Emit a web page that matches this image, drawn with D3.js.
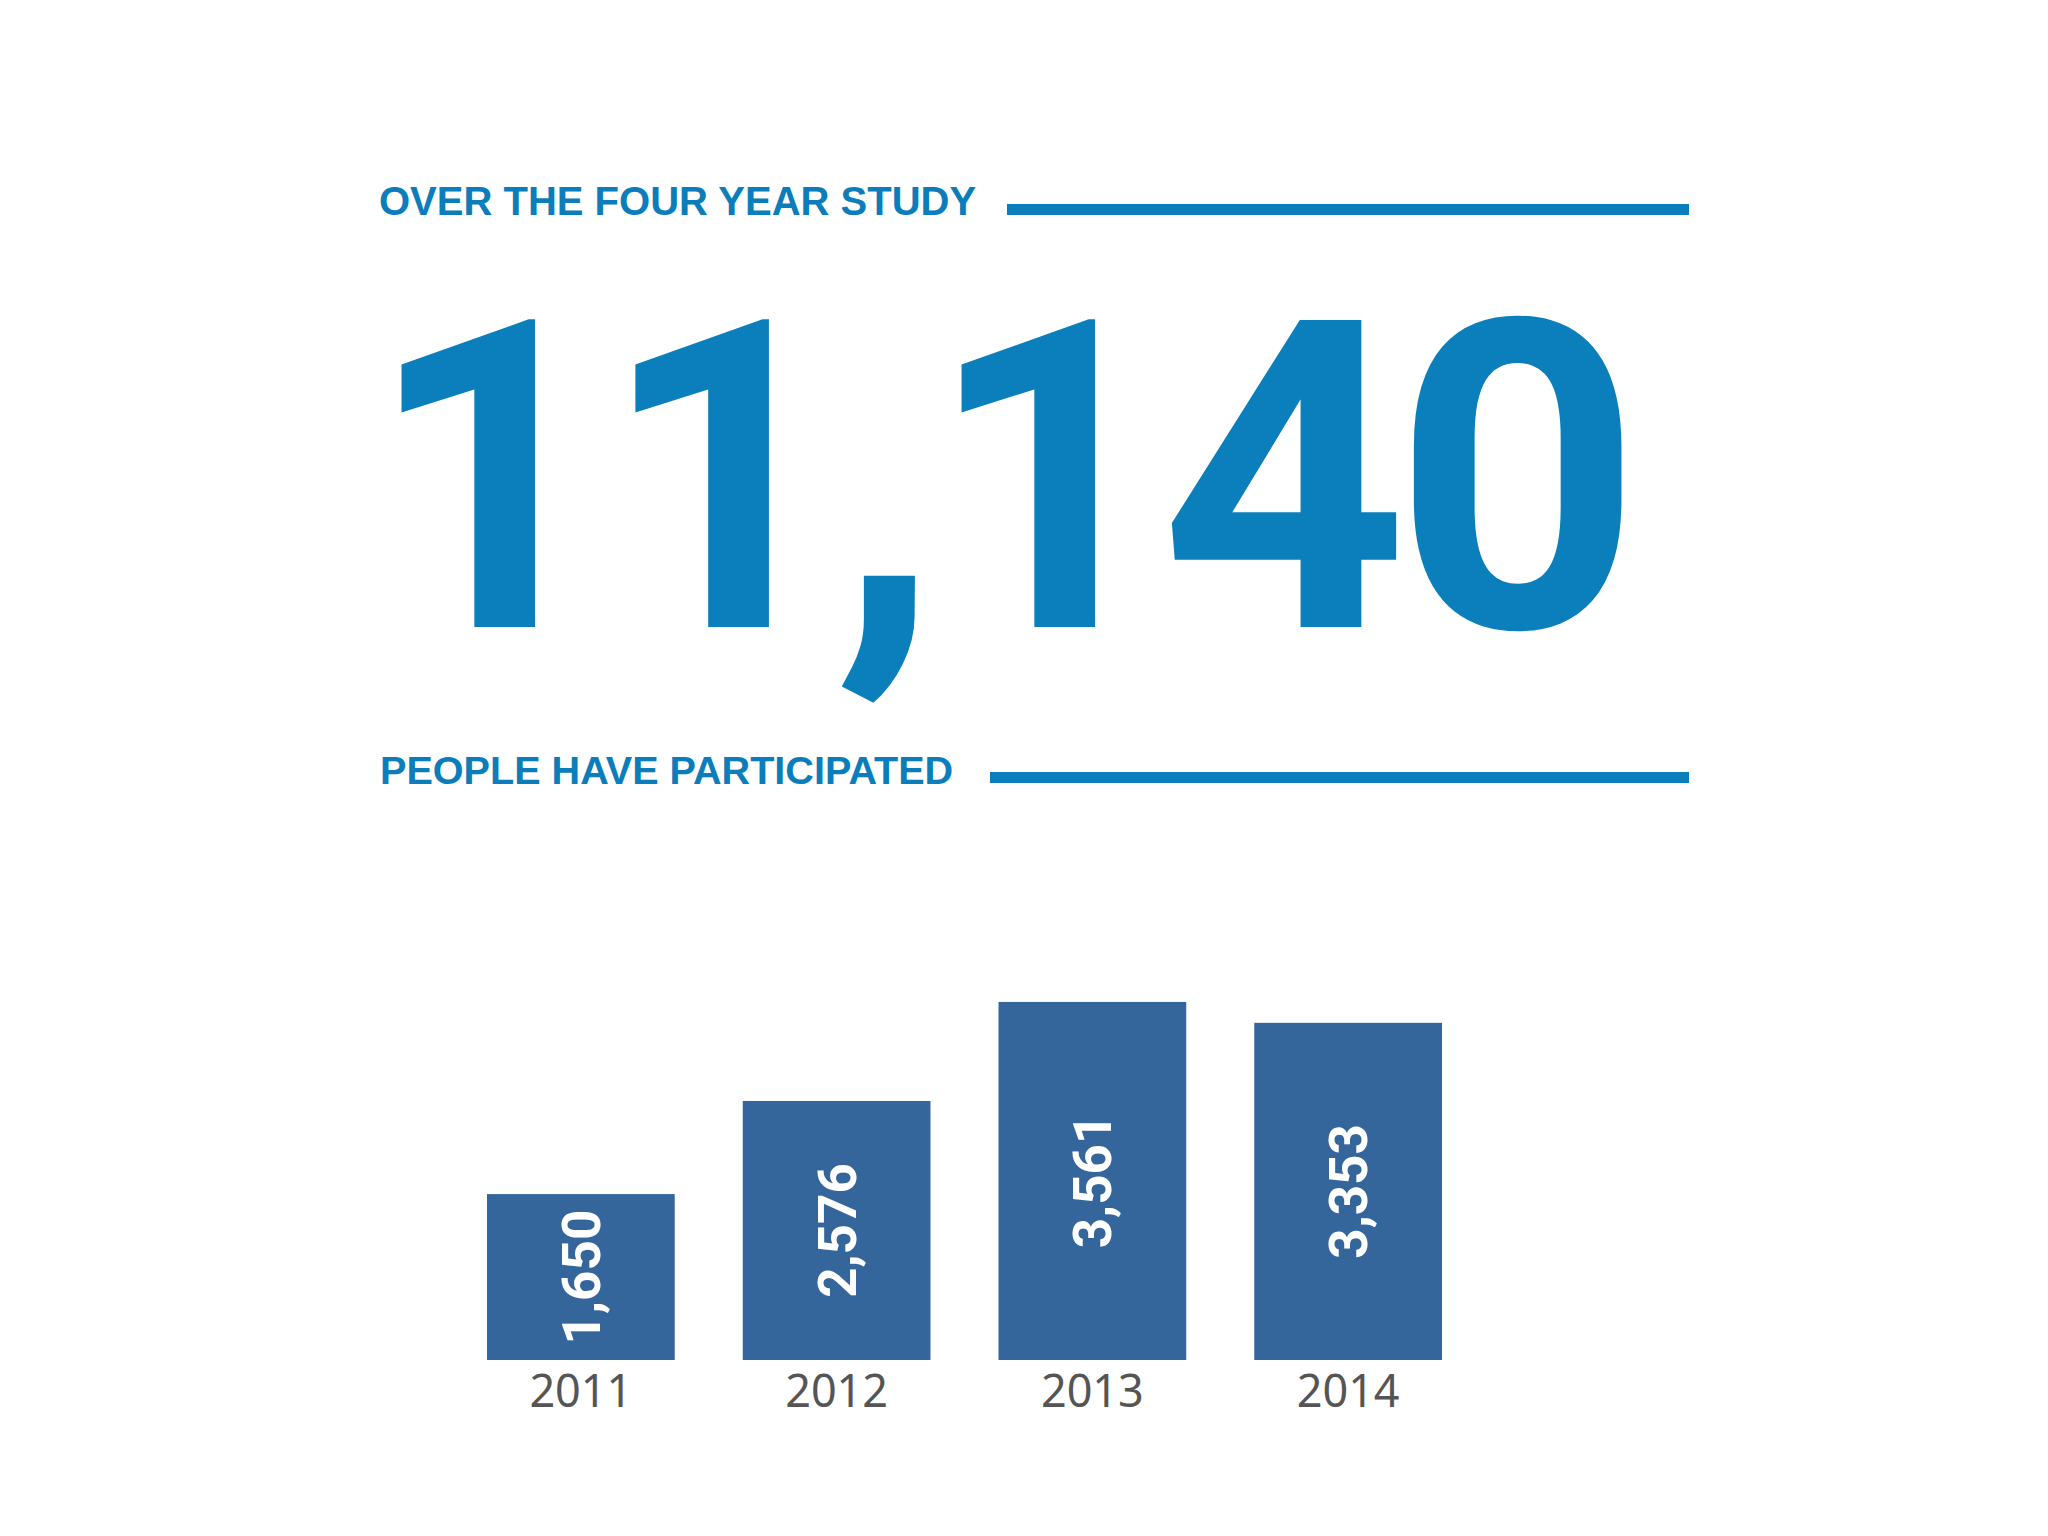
<!DOCTYPE html>
<html>
<head>
<meta charset="utf-8">
<script src="https://cdn.jsdelivr.net/npm/d3@7"></script>
<style>
    body { margin: 0; background: #ffffff; }
    svg { display: block; }
</style>
</head>
<body>
<div class="chart"></div>
<script>
// chart data
var years = ["2011", "2012", "2013", "2014"];
var participants = [1650, 2576, 3561, 3353];
var headline = "OVER THE FOUR YEAR STUDY";
var subline = "PEOPLE HAVE PARTICIPATED";

var svgWidth = 2048;
var svgHeight = 1536;

var blue = "#0a7dba";
var barColor = "#35669b";

var svg = d3
    .select(".chart")
    .append("svg")
    .attr("width", svgWidth)
    .attr("height", svgHeight);

svg.append("rect")
    .attr("width", svgWidth)
    .attr("height", svgHeight)
    .attr("fill", "#ffffff");

// header text with rule lines
var header = svg.append("g");

header.append("text")
    .attr("x", 379)
    .attr("y", 215)
    .attr("font-family", "'Liberation Sans', Arial, sans-serif")
    .attr("font-weight", "bold")
    .attr("font-size", 40)
    .attr("fill", blue)
    .text(headline);

header.append("rect")
    .attr("x", 1007)
    .attr("y", 204)
    .attr("width", 682)
    .attr("height", 11)
    .attr("fill", blue);

// big total number
var total = d3.sum(participants);

header.append("text")
    .attr("x", 366)
    .attr("y", 627)
    .attr("font-family", "Roboto, sans-serif")
    .attr("font-weight", "bold")
    .attr("font-size", 432)
    .attr("letter-spacing", -14)
    .attr("fill", "#0a7fbb")
    .text(d3.format(",")(total));

header.append("text")
    .attr("x", 380)
    .attr("y", 784)
    .attr("font-family", "'Liberation Sans', Arial, sans-serif")
    .attr("font-weight", "bold")
    .attr("font-size", 39.6)
    .attr("fill", blue)
    .text(subline);

header.append("rect")
    .attr("x", 990)
    .attr("y", 772)
    .attr("width", 699)
    .attr("height", 11)
    .attr("fill", blue);

// bar chart
var xBandScale = d3.scaleBand()
    .domain(years)
    .range([487, 1442])
    .paddingInner(0.266)
    .paddingOuter(0);

var yLinearScale = d3.scaleLinear()
    .domain([0, 3600])
    .range([1360, 998]);

var data = years.map(function (year, i) {
    return { year: year, value: participants[i] };
});

var chartGroup = svg.append("g");

chartGroup.selectAll("rect.bar")
    .data(data)
    .enter()
    .append("rect")
    .attr("class", "bar")
    .attr("x", d => xBandScale(d.year))
    .attr("y", d => yLinearScale(d.value))
    .attr("width", xBandScale.bandwidth())
    .attr("height", d => yLinearScale(0) - yLinearScale(d.value))
    .attr("fill", barColor);

// rotated value labels, centred inside each bar
chartGroup.selectAll("text.value")
    .data(data)
    .enter()
    .append("text")
    .attr("class", "value")
    .attr("transform", function (d) {
        var cx = xBandScale(d.year) + xBandScale.bandwidth() / 2;
        var cy = (yLinearScale(d.value) + yLinearScale(0)) / 2;
        return `translate(${cx}, ${cy}) rotate(-90)`;
    })
    .attr("text-anchor", "middle")
    .attr("dy", "0.36em")
    .attr("font-family", "Roboto, sans-serif")
    .attr("font-weight", "bold")
    .attr("font-size", 53)
    .attr("fill", "#ffffff")
    .text(d => d3.format(",")(d.value));

// year axis, no line or ticks
var bottomAxis = d3.axisBottom(xBandScale)
    .tickSize(0)
    .tickPadding(0);

var xAxis = chartGroup.append("g")
    .attr("transform", `translate(0, ${yLinearScale(0)})`)
    .call(bottomAxis);

xAxis.select(".domain").remove();

xAxis.selectAll("text")
    .attr("y", 47)
    .attr("dy", 0)
    .attr("font-family", "'Noto Sans', sans-serif")
    .attr("font-size", 45)
    .attr("fill", "#555555");
</script>
</body>
</html>
